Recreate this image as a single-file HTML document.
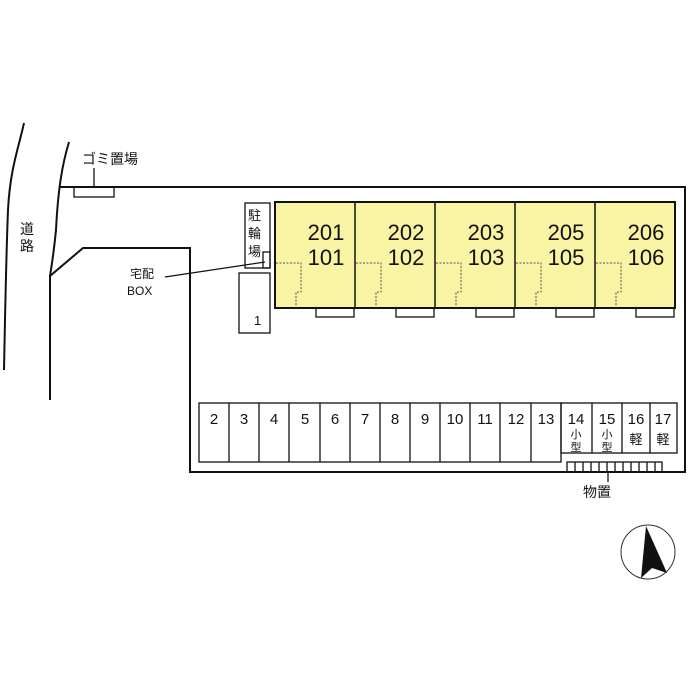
<!DOCTYPE html>
<html><head><meta charset="utf-8"><style>
html,body{margin:0;padding:0;background:#fff;}
svg{display:block;}
text{font-family:"Liberation Sans","Noto Sans CJK JP",sans-serif;fill:#111;}
</style></head><body>
<svg width="700" height="700" viewBox="0 0 700 700" xmlns="http://www.w3.org/2000/svg">
<rect width="700" height="700" fill="#fff"/>
<g fill="none" stroke="#111" stroke-width="2">
<path d="M24,123 C18,150 10,170 8,210 C6,260 5,320 4,370"/>
<path d="M69,142 C62,165 58,190 56,230 C54,250 51,270 50,276 L50,400"/>
<path d="M59,187 L685,187 L685,472 L190,472 L190,248 L83,248 L50,276"/>
</g>
<g fill="none" stroke="#111" stroke-width="1.3">
<rect x="74" y="187" width="40" height="10"/>
<line x1="94" y1="168" x2="94" y2="187"/>
<rect x="245" y="203" width="25" height="65"/>
<rect x="263" y="252" width="7" height="16"/>
<rect x="239" y="273" width="31" height="60"/>
<line x1="165" y1="277" x2="265" y2="262"/>
</g>
<text x="82" y="164" font-size="14">ゴミ置場</text>
<text x="20" y="234" font-size="14">道</text>
<text x="20" y="251" font-size="14">路</text>
<text x="248" y="220" font-size="13">駐</text>
<text x="248" y="238" font-size="13">輪</text>
<text x="248" y="256" font-size="13">場</text>
<text x="130" y="278" font-size="12">宅配</text>
<text x="127" y="295" font-size="12">BOX</text>
<text x="254" y="325" font-size="13">1</text>
<g id="units">
<rect x="275" y="202" width="400" height="106" fill="#f8f4a4" stroke="#111" stroke-width="2"/>
<g stroke="#111" stroke-width="1.5"><line x1="355" y1="202" x2="355" y2="308"/><line x1="435" y1="202" x2="435" y2="308"/><line x1="515" y1="202" x2="515" y2="308"/><line x1="595" y1="202" x2="595" y2="308"/></g>
<g fill="none" stroke="#111" stroke-width="1.3">
<rect x="316" y="308" width="38" height="9"/><rect x="396" y="308" width="38" height="9"/><rect x="476" y="308" width="38" height="9"/><rect x="556" y="308" width="38" height="9"/><rect x="636" y="308" width="38" height="9"/>
</g>
<g fill="none" stroke="#555" stroke-width="1" stroke-dasharray="2,1.5">
<path d="M276,263 H301 V292 H296 V308"/><path d="M356,263 H381 V292 H376 V308"/><path d="M436,263 H461 V292 H456 V308"/><path d="M516,263 H541 V292 H536 V308"/><path d="M596,263 H621 V292 H616 V308"/>
</g>
<g font-size="22" text-anchor="middle">
<text x="326" y="240">201</text><text x="326" y="265">101</text>
<text x="406" y="240">202</text><text x="406" y="265">102</text>
<text x="486" y="240">203</text><text x="486" y="265">103</text>
<text x="566" y="240">205</text><text x="566" y="265">105</text>
<text x="646" y="240">206</text><text x="646" y="265">106</text>
</g>
</g>
<g fill="none" stroke="#111" stroke-width="1.3">
<rect x="199" y="403" width="362" height="59"/>
<line x1="229" y1="403" x2="229" y2="462"/><line x1="259" y1="403" x2="259" y2="462"/><line x1="289" y1="403" x2="289" y2="462"/><line x1="320" y1="403" x2="320" y2="462"/><line x1="350" y1="403" x2="350" y2="462"/><line x1="380" y1="403" x2="380" y2="462"/><line x1="410" y1="403" x2="410" y2="462"/><line x1="440" y1="403" x2="440" y2="462"/><line x1="470" y1="403" x2="470" y2="462"/><line x1="500" y1="403" x2="500" y2="462"/><line x1="531" y1="403" x2="531" y2="462"/>
<rect x="561" y="403" width="116" height="50"/>
<line x1="592" y1="403" x2="592" y2="453"/><line x1="622" y1="403" x2="622" y2="453"/><line x1="650" y1="403" x2="650" y2="453"/>
<rect x="567" y="462" width="95" height="10"/>
<line x1="575" y1="462" x2="575" y2="472"/><line x1="583" y1="462" x2="583" y2="472"/><line x1="591" y1="462" x2="591" y2="472"/><line x1="599" y1="462" x2="599" y2="472"/><line x1="607" y1="462" x2="607" y2="472"/><line x1="615" y1="462" x2="615" y2="472"/><line x1="623" y1="462" x2="623" y2="472"/><line x1="631" y1="462" x2="631" y2="472"/><line x1="639" y1="462" x2="639" y2="472"/><line x1="647" y1="462" x2="647" y2="472"/><line x1="655" y1="462" x2="655" y2="472"/>
<line x1="608" y1="472" x2="608" y2="482"/>
</g>
<g font-size="15" text-anchor="middle">
<text x="214" y="424">2</text><text x="244" y="424">3</text><text x="274" y="424">4</text><text x="305" y="424">5</text><text x="335" y="424">6</text><text x="365" y="424">7</text><text x="395" y="424">8</text><text x="425" y="424">9</text><text x="455" y="424">10</text><text x="485" y="424">11</text><text x="516" y="424">12</text><text x="546" y="424">13</text>
<text x="576" y="424">14</text><text x="607" y="424">15</text><text x="636" y="424">16</text><text x="663" y="424">17</text>
</g>
<g font-size="11" text-anchor="middle">
<text x="576" y="438">小</text><text x="576" y="451">型</text>
<text x="607" y="438">小</text><text x="607" y="451">型</text>
</g>
<g font-size="13" text-anchor="middle">
<text x="636" y="444">軽</text><text x="663" y="444">軽</text>
</g>
<text x="583" y="497" font-size="14">物置</text>
<circle cx="648" cy="552" r="27" fill="none" stroke="#333" stroke-width="1"/>
<polygon points="646,526 667,573 652,568 641,578" fill="#111"/>
</svg>
</body></html>
